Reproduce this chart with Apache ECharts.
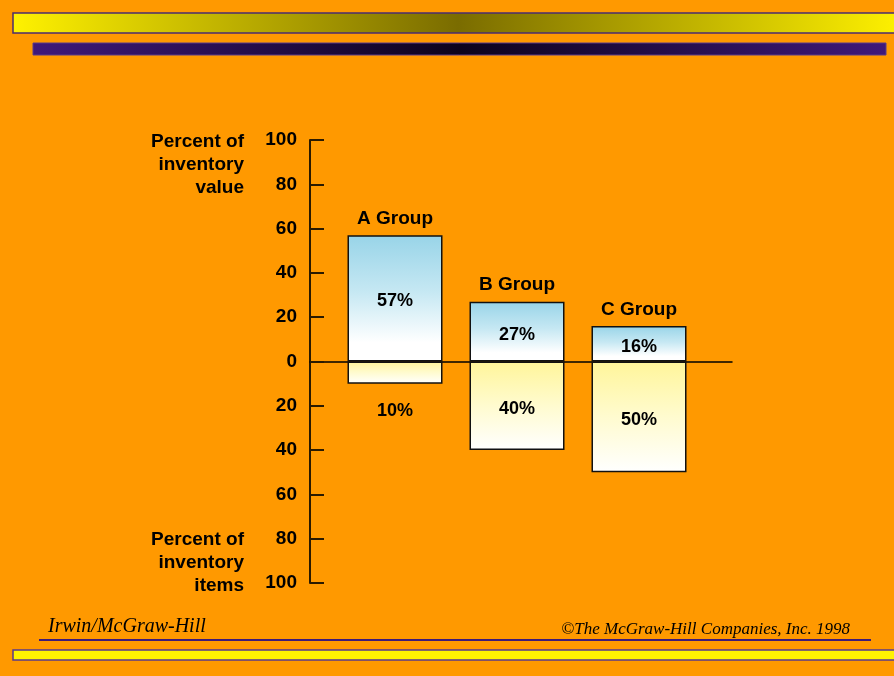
<!DOCTYPE html>
<html>
<head>
<meta charset="utf-8">
<script src="https://cdn.jsdelivr.net/npm/echarts@6/dist/echarts.min.js"></script>
<style>
html,body{margin:0;padding:0;background:#FF9900;}
#chart{width:894px;height:676px;}
</style>
</head>
<body>
<div id="chart"></div>
<script>
// ---- data ----
var categories = ['A Group', 'B Group', 'C Group'];
var valuePct = [57, 27, 16];      // percent of inventory value (upward)
var itemsPct = [10, 40, 50];      // percent of inventory items (downward)
var yMin = -100, yMax = 100, yStep = 20;
var topAxisName = 'Percent of\ninventory\nvalue';
var bottomAxisName = 'Percent of\ninventory\nitems';
var footerLeft = 'Irwin/McGraw-Hill';
var footerRight = '\u00A9The McGraw-Hill Companies, Inc. 1998';

var chart = echarts.init(document.getElementById('chart'));
var F = 'Liberation Sans, Arial, sans-serif';

var blueGrad = new echarts.graphic.LinearGradient(0, 0, 0, 1, [
  { offset: 0, color: '#98d4e8' },
  { offset: 0.45, color: '#c6e8f3' },
  { offset: 0.85, color: '#ffffff' },
  { offset: 1, color: '#ffffff' }
]);
var yellowGrad = new echarts.graphic.LinearGradient(0, 0, 0, 1, [
  { offset: 0, color: '#fff59a' },
  { offset: 0.5, color: '#fffbcf' },
  { offset: 1, color: '#ffffff' }
]);

var option = {
  backgroundColor: '#FF9900',
  animation: false,
  grid: [
    { left: 334, right: 194, top: 140, bottom: 93 },
    { left: 310, right: 162, top: 140, bottom: 93 }
  ],
  xAxis: [
    { type: 'category', gridIndex: 0, data: categories,
      axisLine: { show: false }, axisTick: { show: false }, axisLabel: { show: false }, splitLine: { show: false } },
    { type: 'value', gridIndex: 1, min: 0, max: 1,
      axisLine: { show: true, onZero: true, lineStyle: { color: '#000', width: 1.5 } },
      axisTick: { show: false }, axisLabel: { show: false }, splitLine: { show: false } }
  ],
  yAxis: [
    { type: 'value', gridIndex: 0, min: yMin, max: yMax, interval: yStep, offset: 24,
      axisLine: { show: true, lineStyle: { color: '#2a1a00', width: 2 } },
      axisTick: { show: true, inside: true, length: 14, lineStyle: { color: '#2a1a00', width: 2 } },
      axisLabel: { margin: 13, fontFamily: F, fontWeight: 'bold', fontSize: 19, color: '#000', padding: [3, 0, 0, 0],
        formatter: function (v) { return String(Math.abs(v)); } },
      splitLine: { show: false } },
    { type: 'value', gridIndex: 1, min: yMin, max: yMax, show: false }
  ],
  series: [
    { name: 'value', type: 'bar', xAxisIndex: 0, yAxisIndex: 0, stack: 'v', barWidth: 95, barGap: '-100%',
      data: valuePct,
      itemStyle: { color: blueGrad, borderColor: '#111', borderWidth: 1.5 },
      label: { show: true, position: 'inside', offset: [0, 3], fontFamily: F, fontWeight: 'bold', fontSize: 18, color: '#000',
        formatter: function (p) { return Math.abs(p.value) + '%'; } } },
    { name: 'items', type: 'bar', xAxisIndex: 0, yAxisIndex: 0, stack: 'v', barWidth: 95, barGap: '-100%',
      data: itemsPct.map(function (v) {
        return { value: -v, label: v < 15 ? { position: 'bottom', distance: 15 } : {} };
      }),
      itemStyle: { color: yellowGrad, borderColor: '#111', borderWidth: 1.5 },
      label: { show: true, position: 'inside', offset: [0, 3], fontFamily: F, fontWeight: 'bold', fontSize: 18, color: '#000',
        formatter: function (p) { return Math.abs(p.value) + '%'; } } },
    { name: 'groups', type: 'bar', xAxisIndex: 0, yAxisIndex: 0, barWidth: 95, barGap: '-100%',
      data: valuePct, silent: true, z: 1,
      itemStyle: { color: 'rgba(0,0,0,0)' },
      label: { show: true, position: 'top', distance: 7, formatter: '{b}',
        fontFamily: F, fontWeight: 'bold', fontSize: 19, color: '#000' } }
  ],
  graphic: [
    { type: 'rect', shape: { x: 13, y: 13, width: 890, height: 20 }, z: 0,
      style: { fill: new echarts.graphic.LinearGradient(0, 0, 1, 0, [
        { offset: 0, color: '#fff200' }, { offset: 0.5, color: '#7a6c00' }, { offset: 1, color: '#fff200' }
      ]), stroke: '#4b2c6e', lineWidth: 1.5 } },
    { type: 'rect', shape: { x: 33, y: 43, width: 853, height: 12 }, z: 0,
      style: { fill: new echarts.graphic.LinearGradient(0, 0, 1, 0, [
        { offset: 0, color: '#40197a' }, { offset: 0.5, color: '#0c031c' }, { offset: 1, color: '#40197a' }
      ]), stroke: '#5a3a8a', lineWidth: 1 } },
    { type: 'text', z: 5,
      style: { text: topAxisName, x: 244, y: 130, textAlign: 'right', textVerticalAlign: 'top',
        font: 'bold 19px "Liberation Sans", Arial, sans-serif', lineHeight: 23, fill: '#000' } },
    { type: 'text', z: 5,
      style: { text: bottomAxisName, x: 244, y: 528, textAlign: 'right', textVerticalAlign: 'top',
        font: 'bold 19px "Liberation Sans", Arial, sans-serif', lineHeight: 23, fill: '#000' } },
    { type: 'text', z: 5,
      style: { text: footerLeft, x: 48, y: 637, textVerticalAlign: 'bottom',
        font: 'italic 20px "Liberation Serif", serif', fill: '#000' } },
    { type: 'text', z: 5,
      style: { text: footerRight, x: 850, y: 638, textAlign: 'right', textVerticalAlign: 'bottom',
        font: 'italic 17px "Liberation Serif", serif', fill: '#000' } },
    { type: 'rect', shape: { x: 39, y: 639, width: 832, height: 2 }, z: 0,
      style: { fill: '#3d1a78' } },
    { type: 'rect', shape: { x: 13, y: 650, width: 890, height: 10 }, z: 0,
      style: { fill: '#fff200', stroke: '#5a3a8a', lineWidth: 1.5 } }
  ]
};
chart.setOption(option);
</script>
</body>
</html>
